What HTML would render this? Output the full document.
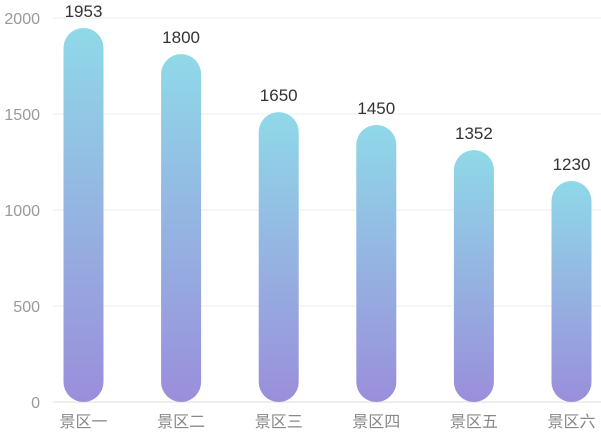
<!DOCTYPE html>
<html><head><meta charset="utf-8"><style>
body{margin:0;background:#fff;}
svg{display:block;font-family:"Liberation Sans","Noto Sans CJK SC",sans-serif;}
</style></head><body>
<svg id="c" width="601" height="433">
<defs><linearGradient id="g" x1="0" y1="0" x2="0" y2="1">
<stop offset="0" stop-color="#8fd9e8"/><stop offset="1" stop-color="#9a8edb"/></linearGradient></defs>
</svg>
<script>
const categories=["景区一","景区二","景区三","景区四","景区五","景区六"];
const values=[1953,1800,1650,1450,1352,1230];
const barValues=[1948,1812,1510,1443,1312,1151];
const ticks=[0,500,1000,1500,2000];
const svg=document.getElementById('c');const NS='http://www.w3.org/2000/svg';
const y0=402,ppu=(402-18)/2000;
const y=v=>y0-v*ppu;
const x=i=>83.5+i*97.6;
function mk(t,a,txt){const e=document.createElementNS(NS,t);for(const k in a)e.setAttribute(k,a[k]);if(txt!=null)e.textContent=txt;svg.appendChild(e);return e;}
ticks.forEach(t=>{
 const l=mk('line',{x1:53,x2:601,y1:y(t),y2:y(t),stroke:t?'#eeeeee':'#dddddd','stroke-width':1});
 
 
 const tx=mk('text',{x:40,y:y(t)+6,'text-anchor':'end','font-size':16,fill:'#999'},t);
 
 
});
categories.forEach((c,i)=>{
 const top=y(barValues[i]);
 const r=mk('rect',{x:x(i)-20,y:top,width:40,height:y0-top,rx:20,ry:20,fill:'url(#g)'});
 
 
 const v=mk('text',{x:x(i),y:top-11,'text-anchor':'middle','font-size':17,fill:'#333'},values[i]);
 
 
 const l=mk('text',{x:x(i),y:427,'text-anchor':'middle','font-size':16,fill:'#888'},c);
 
 
});
</script>
</body></html>
